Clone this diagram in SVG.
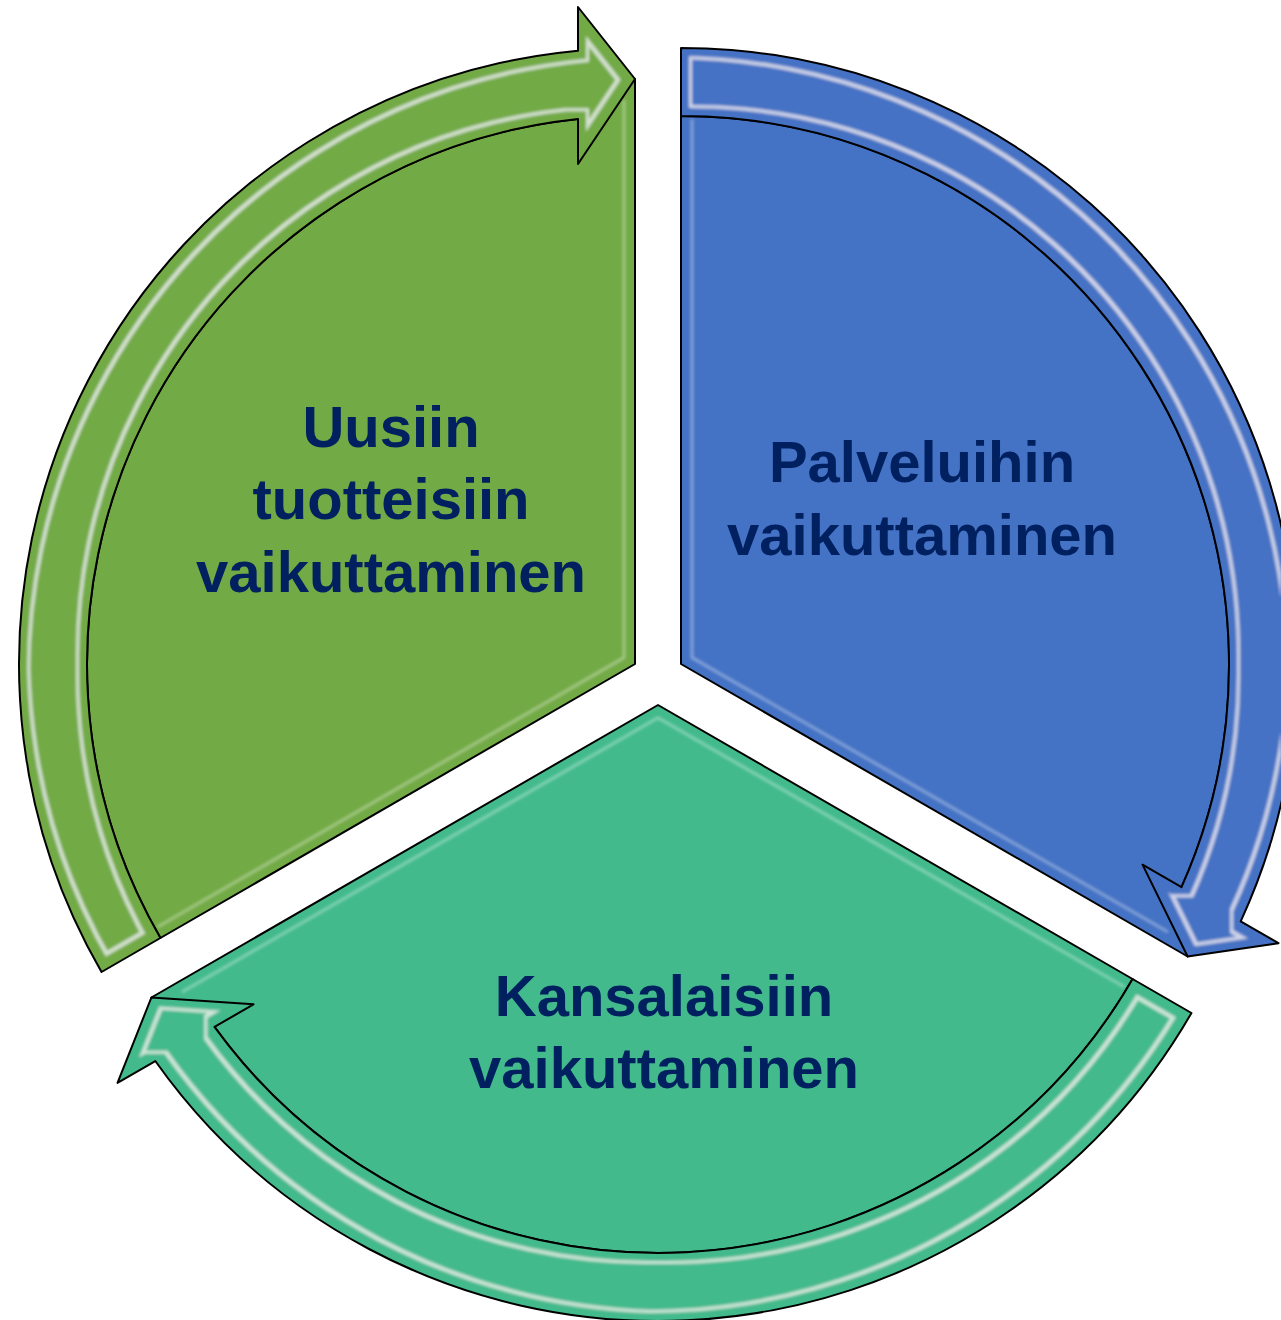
<svg xmlns="http://www.w3.org/2000/svg" width="1281" height="1320" viewBox="0 0 1281 1320">
  <defs>
    <filter id="bevel" filterUnits="userSpaceOnUse" x="0" y="0" width="1281" height="1320">
      <feMorphology in="SourceAlpha" operator="erode" radius="9" result="e1"/>
      <feMorphology in="SourceAlpha" operator="erode" radius="12" result="e2"/>
      <feComposite in="e1" in2="e2" operator="out" result="ring"/>
      <feGaussianBlur in="ring" stdDeviation="1.6" result="ringb"/>
      <feFlood flood-color="#ffffff" flood-opacity="0.6"/>
      <feComposite in2="ringb" operator="in" result="hl"/>
      <feMerge>
        <feMergeNode in="SourceGraphic"/>
        <feMergeNode in="hl"/>
      </feMerge>
    </filter>
    <filter id="soft" filterUnits="userSpaceOnUse" x="0" y="0" width="1281" height="1320">
      <feGaussianBlur stdDeviation="1.6"/>
    </filter>
  </defs>
  <style>
    .edge { stroke: #000000; stroke-width: 2; stroke-linejoin: round; }
    .green { fill: #72AA45; }
    .blue { fill: #4472C4; }
    .teal { fill: #42BA8C; }
    .hl { fill: none; stroke: #ffffff; stroke-opacity: 0.35; stroke-width: 3; stroke-linejoin: round; filter: url(#soft); }
    .label { font-family: "Liberation Sans", Arial, sans-serif; font-weight: bold; font-size: 58px; fill: #002060; text-anchor: middle; }
  </style>

  <g id="node-uusiin">
    <path class="green edge" d="M 635 664 L 160.42 938 A 548 548 0 0 1 578 118.97 L 635 79 Z"/>
    <polyline class="hl" points="157.5,927 624,657.65 624,100"/>
    <text class="label" x="391" y="447">Uusiin</text>
    <text class="label" x="391" y="519">tuotteisiin</text>
    <text class="label" x="391" y="592">vaikuttaminen</text>
  </g>

  <g id="node-palveluihin">
    <path class="blue edge" d="M 681 664 L 681 116 A 548 548 0 0 1 1181.51 887.16 L 1187.62 956.5 Z"/>
    <polyline class="hl" points="692,119 692,657.65 1168,932"/>
    <text class="label" x="922" y="482">Palveluihin</text>
    <text class="label" x="922" y="555">vaikuttaminen</text>
  </g>

  <g id="node-kansalaisiin">
    <path class="teal edge" d="M 658 705 L 1132.58 979 A 548 548 0 0 1 214.49 1026.88 L 151.38 997.5 Z"/>
    <polyline class="hl" points="1124.5,987 658,717.7 182,992"/>
    <text class="label" x="664" y="1016">Kansalaisiin</text>
    <text class="label" x="664" y="1088">vaikuttaminen</text>
  </g>

  <g id="connectors">
    <path class="green edge" filter="url(#bevel)" d="M 101.53 972 A 616 616 0 0 1 578 50.64 L 578 7 L 635 79 L 578 164 L 578 118.97 A 548 548 0 0 0 160.42 938 Z"/>
    <path class="blue edge" filter="url(#bevel)" d="M 681 48 A 616 616 0 0 1 1240.69 921.32 L 1278.48 943.14 L 1187.62 956.5 L 1142.51 864.64 L 1181.51 887.16 A 548 548 0 0 0 681 116 Z"/>
    <path class="teal edge" filter="url(#bevel)" d="M 1191.47 1013 A 616 616 0 0 1 155.31 1061.04 L 117.52 1082.86 L 151.38 997.5 L 253.49 1004.36 L 214.49 1026.88 A 548 548 0 0 0 1132.58 979 Z"/>
  </g>
</svg>
